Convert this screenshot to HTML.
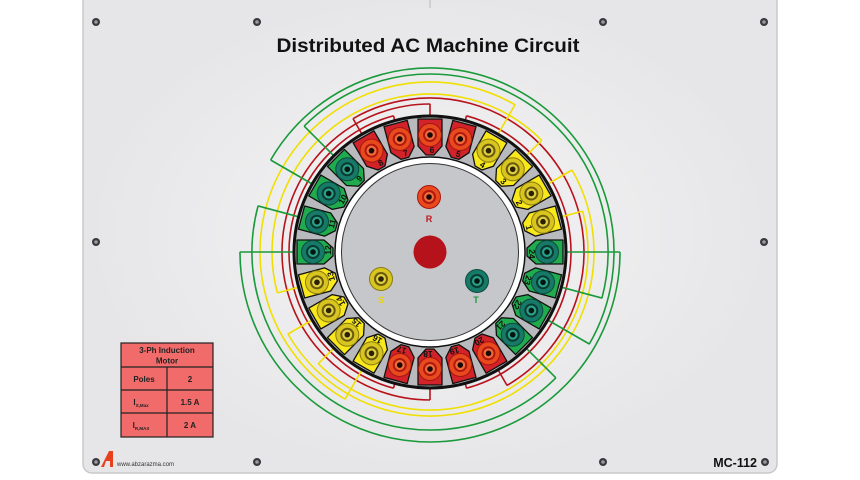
<!DOCTYPE html>
<html><head><meta charset="utf-8"><style>
html,body{margin:0;padding:0;background:#fff;width:860px;height:480px;overflow:hidden}
svg{display:block}
text{font-family:"Liberation Sans",sans-serif;font-weight:bold}
</style></head><body>
<svg width="860" height="480" viewBox="0 0 860 480" xmlns="http://www.w3.org/2000/svg" overflow="hidden">
<defs>
<radialGradient id="gp" cx="50%" cy="50%" r="50%"><stop offset="0" stop-color="#f4f4f5"/><stop offset="1" stop-color="#e6e6e8"/></radialGradient>
<g id="jr"><circle cx="430" cy="135" r="11.5" fill="#e84a1e" stroke="#a8150f" stroke-width="1"/><circle cx="430" cy="135" r="7" fill="#b01810"/><circle cx="430" cy="135" r="5" fill="#f06a3a"/><circle cx="430" cy="135" r="2.8" fill="#1a0a05"/></g>
<g id="jy"><circle cx="430" cy="135" r="11.5" fill="#d8c520" stroke="#8a7a10" stroke-width="1"/><circle cx="430" cy="135" r="7" fill="#6a5a10"/><circle cx="430" cy="135" r="5" fill="#e0d040"/><circle cx="430" cy="135" r="2.8" fill="#2a2005"/></g>
<g id="jg"><circle cx="430" cy="135" r="11.5" fill="#177a68" stroke="#0c4a3c" stroke-width="1"/><circle cx="430" cy="135" r="7" fill="#0a3a30"/><circle cx="430" cy="135" r="5" fill="#2aa088"/><circle cx="430" cy="135" r="2.8" fill="#04140f"/></g>
<polygon id="body" points="418,119 442,119 442,146 434,155 426,155 418,146" stroke="#111" stroke-width="1.3" stroke-linejoin="round"/>
<g id="sr"><use href="#body" fill="#d2222a"/><use href="#jr"/></g>
<g id="sy"><use href="#body" fill="#f8e81c"/><use href="#jy"/></g>
<g id="sg"><use href="#body" fill="#1fab4e"/><use href="#jg"/></g>
</defs>

<rect x="83" y="-8" width="694" height="481" rx="9" fill="url(#gp)" stroke="#c8c8ca" stroke-width="1.5"/>
<line x1="430" y1="0" x2="430" y2="8" stroke="#c8c8ca" stroke-width="1.5"/>

<g fill="#3a3a3c">
<circle cx="96" cy="22" r="4"/><circle cx="257" cy="22" r="4"/><circle cx="603" cy="22" r="4"/><circle cx="764" cy="22" r="4"/>
<circle cx="96" cy="242" r="4"/><circle cx="764" cy="242" r="4"/>
<circle cx="96" cy="462" r="4"/><circle cx="257" cy="462" r="4"/><circle cx="603" cy="462" r="4"/><circle cx="765" cy="462" r="4"/>
</g>
<g fill="#9a9aa0">
<circle cx="96" cy="22" r="1.8"/><circle cx="257" cy="22" r="1.8"/><circle cx="603" cy="22" r="1.8"/><circle cx="764" cy="22" r="1.8"/>
<circle cx="96" cy="242" r="1.8"/><circle cx="764" cy="242" r="1.8"/>
<circle cx="96" cy="462" r="1.8"/><circle cx="257" cy="462" r="1.8"/><circle cx="603" cy="462" r="1.8"/><circle cx="765" cy="462" r="1.8"/>
</g>

<text x="428" y="52" font-size="19" text-anchor="middle" fill="#111" textLength="303" lengthAdjust="spacingAndGlyphs">Distributed AC Machine Circuit</text>

<g fill="none" stroke-width="1.6">
<g stroke="#b8121b">
<circle cx="430" cy="252" r="148" stroke-dasharray="465 2000" transform="rotate(90 430 252)"/>
<circle cx="430" cy="252" r="141" stroke-dasharray="369.1 2000" transform="rotate(105 430 252)"/>
<circle cx="430" cy="252" r="141" stroke-dasharray="369.1 2000" transform="rotate(-75 430 252)"/>
<circle cx="430" cy="252" r="154" stroke-dasharray="483.8 2000" transform="rotate(-120 430 252)"/>
<line x1="566" y1="252" x2="578" y2="252" transform="rotate(90 430 252)"/>
<line x1="566" y1="252" x2="578" y2="252" transform="rotate(270 430 252)"/>
<line x1="566" y1="252" x2="571" y2="252" transform="rotate(105 430 252)"/>
<line x1="566" y1="252" x2="571" y2="252" transform="rotate(255 430 252)"/>
<line x1="566" y1="252" x2="571" y2="252" transform="rotate(-75 430 252)"/>
<line x1="566" y1="252" x2="571" y2="252" transform="rotate(75 430 252)"/>
<line x1="566" y1="252" x2="584" y2="252" transform="rotate(-120 430 252)"/>
<line x1="566" y1="252" x2="584" y2="252" transform="rotate(60 430 252)"/>
</g>
<g stroke="#f0df00" transform="rotate(-120 430 252)">
<circle cx="430" cy="252" r="164" stroke-dasharray="515.2 2000" transform="rotate(90 430 252)"/>
<circle cx="430" cy="252" r="158" stroke-dasharray="413.6 2000" transform="rotate(105 430 252)"/>
<circle cx="430" cy="252" r="158" stroke-dasharray="413.6 2000" transform="rotate(-75 430 252)"/>
<circle cx="430" cy="252" r="170" stroke-dasharray="534.1 2000" transform="rotate(-120 430 252)"/>
<line x1="566" y1="252" x2="594" y2="252" transform="rotate(90 430 252)"/>
<line x1="566" y1="252" x2="594" y2="252" transform="rotate(270 430 252)"/>
<line x1="566" y1="252" x2="588" y2="252" transform="rotate(105 430 252)"/>
<line x1="566" y1="252" x2="588" y2="252" transform="rotate(255 430 252)"/>
<line x1="566" y1="252" x2="588" y2="252" transform="rotate(-75 430 252)"/>
<line x1="566" y1="252" x2="588" y2="252" transform="rotate(75 430 252)"/>
<line x1="566" y1="252" x2="600" y2="252" transform="rotate(-120 430 252)"/>
<line x1="566" y1="252" x2="600" y2="252" transform="rotate(60 430 252)"/>
</g>
<g stroke="#1a9a3a" transform="rotate(120 430 252)">
<circle cx="430" cy="252" r="184" stroke-dasharray="578.1 2000" transform="rotate(90 430 252)"/>
<circle cx="430" cy="252" r="178" stroke-dasharray="466 2000" transform="rotate(105 430 252)"/>
<circle cx="430" cy="252" r="178" stroke-dasharray="466 2000" transform="rotate(-75 430 252)"/>
<circle cx="430" cy="252" r="190" stroke-dasharray="596.9 2000" transform="rotate(-120 430 252)"/>
<line x1="566" y1="252" x2="614" y2="252" transform="rotate(90 430 252)"/>
<line x1="566" y1="252" x2="614" y2="252" transform="rotate(270 430 252)"/>
<line x1="566" y1="252" x2="608" y2="252" transform="rotate(105 430 252)"/>
<line x1="566" y1="252" x2="608" y2="252" transform="rotate(255 430 252)"/>
<line x1="566" y1="252" x2="608" y2="252" transform="rotate(-75 430 252)"/>
<line x1="566" y1="252" x2="608" y2="252" transform="rotate(75 430 252)"/>
<line x1="566" y1="252" x2="620" y2="252" transform="rotate(-120 430 252)"/>
<line x1="566" y1="252" x2="620" y2="252" transform="rotate(60 430 252)"/>
</g>
</g>

<circle cx="430" cy="252" r="136" fill="#b9babd" stroke="#111" stroke-width="3"/>
<circle cx="430" cy="252" r="95" fill="#fff" stroke="#111" stroke-width="1.5"/>
<circle cx="430" cy="252" r="88.5" fill="#c6c7ca" stroke="#333" stroke-width="1"/>

<g font-size="8.5" text-anchor="middle" fill="#111">
<g transform="rotate(75 430 252)"><use href="#sy"/><text x="432" y="153">1</text></g>
<g transform="rotate(60 430 252)"><use href="#sy"/><text x="432" y="153">2</text></g>
<g transform="rotate(45 430 252)"><use href="#sy"/><text x="432" y="153">3</text></g>
<g transform="rotate(30 430 252)"><use href="#sy"/><text x="432" y="153">4</text></g>
<g transform="rotate(15 430 252)"><use href="#sr"/><text x="432" y="153">5</text></g>
<g transform="rotate(0 430 252)"><use href="#sr"/><text x="432" y="153">6</text></g>
<g transform="rotate(-15 430 252)"><use href="#sr"/><text x="432" y="153">7</text></g>
<g transform="rotate(-30 430 252)"><use href="#sr"/><text x="432" y="153">8</text></g>
<g transform="rotate(-45 430 252)"><use href="#sg"/><text x="432" y="153">9</text></g>
<g transform="rotate(-60 430 252)"><use href="#sg"/><text x="432" y="153">10</text></g>
<g transform="rotate(-75 430 252)"><use href="#sg"/><text x="432" y="153">11</text></g>
<g transform="rotate(-90 430 252)"><use href="#sg"/><text x="432" y="153">12</text></g>
<g transform="rotate(-105 430 252)"><use href="#sy"/><text x="432" y="153">13</text></g>
<g transform="rotate(-120 430 252)"><use href="#sy"/><text x="432" y="153">14</text></g>
<g transform="rotate(-135 430 252)"><use href="#sy"/><text x="432" y="153">15</text></g>
<g transform="rotate(-150 430 252)"><use href="#sy"/><text x="432" y="153">16</text></g>
<g transform="rotate(-165 430 252)"><use href="#sr"/><text x="432" y="153">17</text></g>
<g transform="rotate(-180 430 252)"><use href="#sr"/><text x="432" y="153">18</text></g>
<g transform="rotate(-195 430 252)"><use href="#sr"/><text x="432" y="153">19</text></g>
<g transform="rotate(-210 430 252)"><use href="#sr"/><text x="432" y="153">20</text></g>
<g transform="rotate(-225 430 252)"><use href="#sg"/><text x="432" y="153">21</text></g>
<g transform="rotate(-240 430 252)"><use href="#sg"/><text x="432" y="153">22</text></g>
<g transform="rotate(-255 430 252)"><use href="#sg"/><text x="432" y="153">23</text></g>
<g transform="rotate(-270 430 252)"><use href="#sg"/><text x="432" y="153">24</text></g>
</g>

<circle cx="430" cy="252" r="16.5" fill="#b5121b"/>
<use href="#jr" transform="translate(-1 62)"/>
<text x="429" y="222" font-size="9" text-anchor="middle" fill="#c0161e">R</text>
<use href="#jy" transform="translate(-49 144)"/>
<text x="381" y="303" font-size="9" text-anchor="middle" fill="#e8d400">S</text>
<use href="#jg" transform="translate(47 146)"/>
<text x="476" y="303" font-size="9" text-anchor="middle" fill="#1a9a3a">T</text>

<g stroke="#222" stroke-width="1.2" fill="#f26b6b">
<rect x="121" y="343" width="92" height="94"/>
<line x1="121" y1="367" x2="213" y2="367"/>
<line x1="121" y1="390" x2="213" y2="390"/>
<line x1="121" y1="413" x2="213" y2="413"/>
<line x1="167" y1="367" x2="167" y2="437"/>
</g>
<g font-size="8" text-anchor="middle" fill="#222">
<text x="167" y="353">3-Ph Induction</text>
<text x="167" y="363.5">Motor</text>
<text x="144" y="382">Poles</text><text x="190" y="382">2</text>
<text x="141" y="405">I<tspan font-size="4.5" dy="2">S,Max</tspan></text><text x="190" y="405">1.5 A</text>
<text x="141" y="428">I<tspan font-size="4.5" dy="2">R,MAX</tspan></text><text x="190" y="428">2 A</text>
</g>

<path d="M101 467 L109 451 L113 451 L113 467 L110 467 L110 461 L106 461 L104 467 Z" fill="#e8401c"/>
<text x="117" y="466" font-size="6" fill="#333" style="font-weight:normal">www.abzarazma.com</text>
<text x="757" y="467" font-size="12.5" text-anchor="end" fill="#111">MC-112</text>
</svg>
</body></html>
